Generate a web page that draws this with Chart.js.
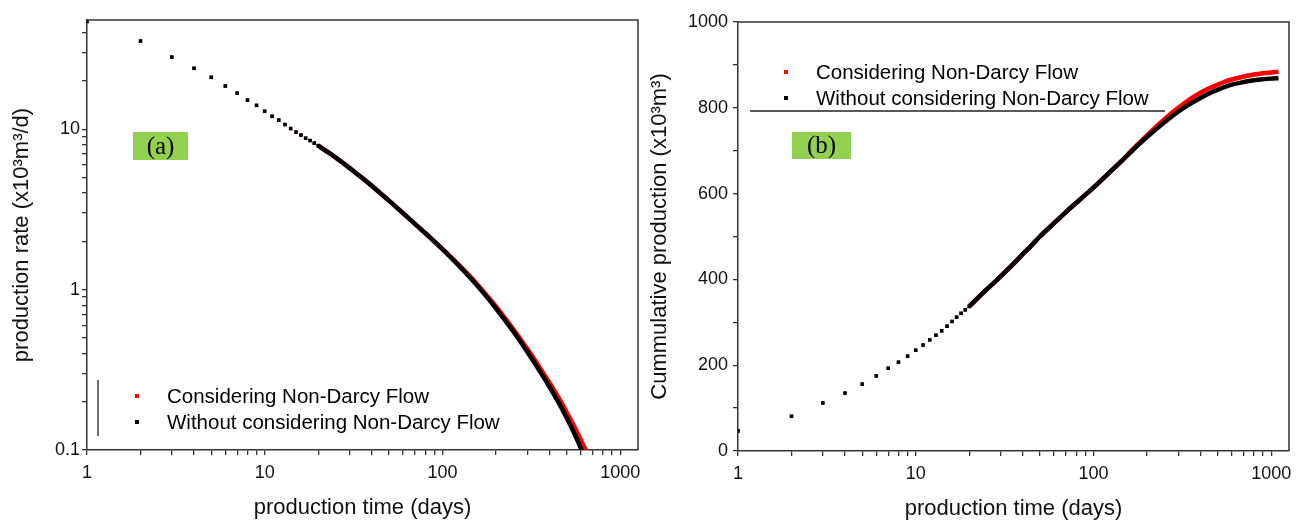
<!DOCTYPE html>
<html>
<head>
<meta charset="utf-8">
<script src="https://cdn.jsdelivr.net/npm/chart.js@4.4.1/dist/chart.umd.min.js"></script>
<style>
  html, body { margin: 0; padding: 0; background: #ffffff; }
  #wrap { position: relative; width: 1296px; height: 522px; overflow: hidden; }
  #boxA { position: absolute; left: 0; top: 0; width: 645px; height: 522px; }
  #boxB { position: absolute; left: 645px; top: 0; width: 651px; height: 522px; }
</style>
</head>
<body>
<div id="wrap">
  <div id="boxA"><canvas id="chartA"></canvas></div>
  <div id="boxB"><canvas id="chartB"></canvas></div>
</div>
<script>
// ---------- DATA ----------
// (a) production rate, x10^3 m^3/d, vs production time (days)
const rateDays = [1,2,3,4,5,6,7,8,9,10,11,12,13,14,15,16,17,18,19,20,
  22,25,28,32,36,40,45,50,60,70,85,100,120,140,170,200,250,300,350,400,450,500,550,600,650,700];
const rateWithout = [47,35.5,28.2,24.0,21.1,18.6,16.8,15.2,14.1,12.96,12.05,11.4,10.7,10.1,9.6,9.2,8.8,8.5,8.2,7.9,
  7.36,6.68,6.08,5.42,4.89,4.44,3.97,3.59,3.0,2.57,2.12,1.79,1.46,1.22,0.955,0.765,0.55,0.41,0.315,0.248,0.198,0.159,0.128,0.103,0.083,0.067];
const rateWith = [47,35.5,28.2,24.0,21.1,18.6,16.8,15.2,14.1,12.96,12.05,11.4,10.7,10.1,9.6,9.2,8.8,8.5,8.2,7.9,
  7.36,6.68,6.08,5.42,4.89,4.44,3.97,3.59,3.0,2.57,2.12,1.79,1.475,1.24,0.975,0.785,0.567,0.427,0.331,0.263,0.212,0.172,0.141,0.116,0.096,0.079];

// (b) cumulative production, x10^3 m^3, vs production time (days)
const cumDays = [1,2,3,4,5,6,7,8,9,10,11,12,13,14,15,16,17,18,19,20,
  22,25,28,32,36,40,45,50,60,70,85,100,120,140,170,200,250,300,350,400,450,500,550,600,700,800,900,1000,1100];
const cumWithout = [47,81,112,135,156,175,193,207,221,235,247,259,270,280,291,302,312,321,329,337,
  354,376,395,418,439,459,480,500,531,557,588,614,645,671,705,732,766,791,809,823,834,842,849,854,860,864,866.5,868,869];
const cumWith = [47,81,112,135,156,175,193,207,221,235,247,259,270,280,291,302,312,321,329,337,
  354,376,395,418,439,459,480,500,531,557,588,614,645,671,707,736,773,800,820,835,846,854,861,866,873,877.5,880.5,882.5,884];

const xDecadeTicks = [1, 10, 100, 1000];
const yDecadeTicksA = [0.1, 1, 10];
const legendLabels = ['Considering Non-Darcy Flow', 'Without considering Non-Darcy Flow'];
const seriesColors = ['#ff0000', '#000000'];

// ---------- helpers ----------
const FONT = "'Liberation Sans', Arial, sans-serif";
const DOT_LIMIT = 20; // beyond this day the daily markers merge into a band

function toXY(xs, ys) { return xs.map((x, i) => ({ x: x, y: ys[i] })); }
function isDecade(v, list) { return list.some(d => Math.abs(v - d) / d < 1e-6); }
function niceLogTick(v) {
  const e = Math.floor(Math.log10(v) + 1e-9);
  const s = v / Math.pow(10, e);
  return Math.abs(s - Math.round(s)) < 1e-6;
}

function makeDataset(label, pts, color, dotR) {
  return {
    label: label,
    data: pts,
    showLine: true,
    borderColor: color,
    backgroundColor: color,
    borderWidth: 4.5,
    cubicInterpolationMode: 'monotone',
    pointStyle: 'rect',
    pointBorderWidth: 0,
    pointBackgroundColor: color,
    pointRadius: ctx => (ctx.raw && ctx.raw.x <= DOT_LIMIT ? dotR : 0),
    pointHoverRadius: 0,
    segment: {
      borderColor: ctx => (ctx.p0.parsed.x < DOT_LIMIT ? 'rgba(0,0,0,0)' : color)
    }
  };
}

function framePlugin() {
  return {
    id: 'frame',
    afterDatasetsDraw(chart) {
      const a = chart.chartArea, c = chart.ctx;
      c.save();
      c.strokeStyle = '#333';
      c.lineWidth = 1.5;
      c.beginPath();
      c.moveTo(a.left, a.top);
      c.lineTo(a.right, a.top);
      c.lineTo(a.right, a.bottom);
      c.stroke();
      c.restore();
    }
  };
}

function annotPlugin(cfg) {
  return {
    id: 'annot',
    afterDraw(chart) {
      const c = chart.ctx;
      c.save();
      // panel tag
      c.fillStyle = '#92d050';
      c.fillRect(cfg.tag.x, cfg.tag.y, cfg.tag.w, cfg.tag.h);
      c.fillStyle = '#000';
      c.font = "25px 'Liberation Serif', 'Times New Roman', serif";
      c.textAlign = 'center';
      c.textBaseline = 'middle';
      c.fillText(cfg.tag.text, cfg.tag.x + cfg.tag.w / 2, cfg.tag.y + cfg.tag.h / 2 + 1);
      // legend
      c.font = '20.5px ' + FONT;
      c.textAlign = 'left';
      for (let i = 0; i < legendLabels.length; i++) {
        const y = cfg.leg.y + i * cfg.leg.dy;
        c.fillStyle = seriesColors[i];
        c.fillRect(cfg.leg.mx - 2, y - 2, 4, 4);
        c.fillStyle = '#000';
        c.fillText(legendLabels[i], cfg.leg.tx, y + 1);
      }
      // legend frame remnant
      c.strokeStyle = '#222';
      c.lineWidth = 1.3;
      c.beginPath();
      c.moveTo(cfg.line[0], cfg.line[1]);
      c.lineTo(cfg.line[2], cfg.line[3]);
      c.stroke();
      c.restore();
    }
  };
}

function axisCommon(extra) {
  return Object.assign({
    border: { display: true, color: '#333', width: 1.5 },
  }, extra);
}

Chart.defaults.font.family = FONT;
Chart.defaults.color = '#111';

// ---------- Chart (a) ----------
new Chart(document.getElementById('chartA'), {
  type: 'scatter',
  data: {
    datasets: [
      makeDataset(legendLabels[1], toXY(rateDays, rateWithout), seriesColors[1], 2.6),
      makeDataset(legendLabels[0], toXY(rateDays, rateWith), seriesColors[0], 2.0)
    ]
  },
  options: {
    responsive: true,
    maintainAspectRatio: false,
    animation: false,
    events: [],
    layout: { padding: { top: 20, right: 5, left: 0, bottom: 0 } },
    plugins: { legend: { display: false }, tooltip: { enabled: false } },
    scales: {
      x: axisCommon({
        type: 'logarithmic', min: 1, max: 1260, position: 'bottom',
        grid: { drawOnChartArea: false, drawTicks: true, tickLength: 5, lineWidth: 1.3,
                tickColor: ctx => (ctx.tick && niceLogTick(ctx.tick.value) ? '#333' : 'rgba(0,0,0,0)') },
        ticks: { autoSkip: false, maxRotation: 0, padding: 7, color: '#111', font: { size: 18 },
                 callback: v => (isDecade(v, xDecadeTicks) ? String(Math.round(v)) : '') },
        title: { display: true, text: 'production time (days)', color: '#111', font: { size: 22 },
                 padding: { top: 0, bottom: 1 } },
        afterFit: s => { s.height = 72; }
      }),
      y: axisCommon({
        type: 'logarithmic', min: 0.1, max: 48, position: 'left',
        grid: { drawOnChartArea: false, drawTicks: true, tickLength: 5, lineWidth: 1.3,
                tickColor: ctx => (ctx.tick && niceLogTick(ctx.tick.value) ? '#333' : 'rgba(0,0,0,0)') },
        ticks: { autoSkip: false, padding: 2, color: '#111', font: { size: 18 },
                 callback: v => (isDecade(v, yDecadeTicksA) ? String(+Number(v).toPrecision(3)) : '') },
        title: { display: true, text: 'production rate (x10³m³/d)', color: '#111', font: { size: 22 },
                 padding: { top: 9, bottom: 0 } },
        afterFit: s => { s.width = 87; }
      })
    }
  },
  plugins: [framePlugin(), annotPlugin({
    tag: { x: 133, y: 132, w: 55, h: 28, text: '(a)' },
    leg: { mx: 137, tx: 167, y: 396, dy: 26 },
    line: [98, 380, 98, 436]
  })]
});

// ---------- Chart (b) ----------
new Chart(document.getElementById('chartB'), {
  type: 'scatter',
  data: {
    datasets: [
      makeDataset(legendLabels[1], toXY(cumDays, cumWithout), seriesColors[1], 2.6),
      makeDataset(legendLabels[0], toXY(cumDays, cumWith), seriesColors[0], 2.0)
    ]
  },
  options: {
    responsive: true,
    maintainAspectRatio: false,
    animation: false,
    events: [],
    layout: { padding: { top: 22, right: 6, left: 0, bottom: 0 } },
    plugins: { legend: { display: false }, tooltip: { enabled: false } },
    scales: {
      x: axisCommon({
        type: 'logarithmic', min: 1, max: 1260, position: 'bottom',
        grid: { drawOnChartArea: false, drawTicks: true, tickLength: 5, lineWidth: 1.3,
                tickColor: ctx => (ctx.tick && niceLogTick(ctx.tick.value) ? '#333' : 'rgba(0,0,0,0)') },
        ticks: { autoSkip: false, maxRotation: 0, padding: 7, color: '#111', font: { size: 18 },
                 callback: v => (isDecade(v, xDecadeTicks) ? String(Math.round(v)) : '') },
        title: { display: true, text: 'production time (days)', color: '#111', font: { size: 22 },
                 padding: { top: 0, bottom: 0 } },
        afterFit: s => { s.height = 71; }
      }),
      y: axisCommon({
        type: 'linear', min: 0, max: 1000, position: 'left',
        grid: { drawOnChartArea: false, drawTicks: true, tickLength: 5, lineWidth: 1.3, tickColor: '#333' },
        ticks: { stepSize: 100, autoSkip: false, padding: 5, color: '#111', font: { size: 18 },
                 callback: v => (v % 200 === 0 ? String(v) : '') },
        title: { display: true, text: 'Cummulative production (x10³m³)', color: '#111', font: { size: 22 },
                 padding: { top: 2, bottom: 0 } },
        afterFit: s => { s.width = 93; }
      })
    }
  },
  plugins: [framePlugin(), annotPlugin({
    tag: { x: 147, y: 132, w: 59, h: 27, text: '(b)' },
    leg: { mx: 141, tx: 171, y: 72, dy: 26 },
    line: [105, 111, 520, 111]
  })]
});
</script>
</body>
</html>
